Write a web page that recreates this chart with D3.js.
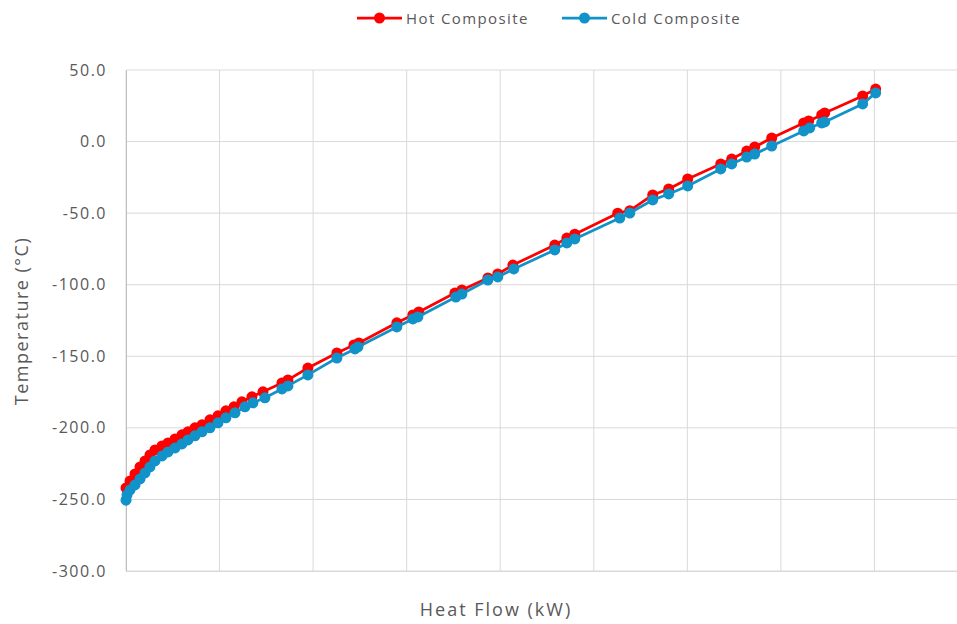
<!DOCTYPE html>
<html>
<head>
<meta charset="utf-8">
<script src="https://cdn.jsdelivr.net/npm/d3@7"></script>
<style>
  html, body { margin: 0; padding: 0; background: #ffffff; }
  svg { display: block; }
  text { font-family: "Open Sans", "Noto Sans", sans-serif; fill: #595959; }
</style>
</head>
<body>
<svg id="chart" width="957" height="624"></svg>
<script>
// Composite curves: cumulative heat flow (kW) vs temperature (°C)
const hotHeat = [0, 43, 96, 150, 203, 256, 310, 385, 449, 524, 598, 662, 737, 812, 897, 983, 1068, 1154, 1239, 1346, 1464, 1667, 1731, 1944, 2254, 2436, 2489, 2895, 3066, 3130, 3515, 3590, 3868, 3974, 4135, 4583, 4712, 4797, 5256, 5385, 5630, 5801, 6004, 6357, 6474, 6635, 6720, 6902, 7244, 7297, 7436, 7468, 7874, 8013];
const hotTemp = [-242.0, -237.1, -232.2, -227.3, -223.1, -218.9, -215.4, -212.6, -210.5, -207.7, -204.9, -202.8, -200.0, -197.9, -194.4, -191.6, -188.1, -185.3, -181.8, -178.3, -174.8, -168.6, -166.5, -158.2, -147.7, -142.1, -140.7, -126.6, -121.1, -119.0, -105.8, -103.7, -95.3, -92.5, -86.3, -72.3, -67.4, -64.7, -50.0, -48.3, -37.3, -33.1, -26.1, -15.6, -12.2, -6.6, -3.8, 2.5, 13.0, 14.4, 18.6, 20.0, 31.9, 36.7];

const coldHeat = [0, 11, 43, 96, 150, 203, 256, 310, 385, 449, 524, 598, 662, 737, 812, 897, 983, 1068, 1165, 1271, 1357, 1485, 1667, 1731, 1944, 2254, 2447, 2479, 2895, 3066, 3120, 3526, 3590, 3868, 3974, 4145, 4583, 4712, 4797, 5278, 5385, 5630, 5801, 6004, 6357, 6474, 6635, 6720, 6902, 7244, 7308, 7436, 7468, 7874, 8013];
const coldTemp = [-250.5, -246.9, -243.4, -239.9, -235.7, -231.5, -227.3, -223.1, -219.6, -216.8, -214.0, -211.2, -208.4, -205.6, -202.8, -200.0, -196.5, -193.0, -189.5, -185.3, -182.5, -179.0, -172.8, -170.7, -163.0, -151.2, -144.9, -143.5, -129.5, -123.9, -122.5, -108.6, -106.5, -96.7, -94.6, -89.0, -75.7, -70.8, -68.0, -53.4, -49.9, -40.8, -36.6, -31.0, -19.1, -15.6, -10.8, -8.7, -3.1, 7.4, 9.5, 13.0, 13.7, 26.3, 34.0];

const yTicks = [50, 0, -50, -100, -150, -200, -250, -300];
const xGrid = [0, 1000, 2000, 3000, 4000, 5000, 6000, 7000, 8000, 9000];

const seriesNames = ["Hot Composite", "Cold Composite"];
const seriesColors = ["#ff0000", "#1192c8"];

const svg = d3.select("#chart");
const margin = { left: 126, top: 70, right: 968, bottom: 571 };

const x = d3.scaleLinear().domain([0, 9000]).range([margin.left, margin.right]);
const y = d3.scaleLinear().domain([-300, 50]).range([margin.bottom, margin.top]);

// gridlines
const grid = svg.append("g");
grid.selectAll("line.h").data(yTicks).enter().append("line")
  .attr("x1", margin.left).attr("x2", 957)
  .attr("y1", d => y(d)).attr("y2", d => y(d))
  .attr("stroke", "#d9d9d9").attr("stroke-width", 1);
grid.selectAll("line.v").data(xGrid).enter().append("line")
  .attr("x1", d => x(d)).attr("x2", d => x(d))
  .attr("y1", margin.top).attr("y2", margin.bottom)
  .attr("stroke", "#d9d9d9").attr("stroke-width", 1);

// y axis labels, one decimal with a plain hyphen for negatives
const fmt = d3.formatLocale({ decimal: ".", thousands: ",", grouping: [3], currency: ["", ""], minus: "-" }).format(".1f");
const yAxis = d3.axisLeft(y).tickValues(yTicks).tickSize(0).tickPadding(19).tickFormat(fmt);
const yg = svg.append("g").attr("transform", `translate(${margin.left},0)`).call(yAxis);
yg.select(".domain").attr("stroke", "#bfbfbf");
yg.selectAll("text").style("font-size", "16px").style("letter-spacing", "1.5px")
  .attr("fill", "#595959").style("font-family", "'Open Sans', sans-serif");

// bottom axis line
const xAxis = d3.axisBottom(x).tickValues([]).tickSize(0);
const xg = svg.append("g").attr("transform", `translate(0,${margin.bottom})`).call(xAxis);
xg.select(".domain").attr("stroke", "#d9d9d9").attr("d", `M${margin.left},0.5H957`);

// axis titles
svg.append("text").attr("x", 496).attr("y", 616).attr("text-anchor", "middle")
  .style("font-size", "18px").style("letter-spacing", "2px").text("Heat Flow (kW)");
svg.append("text").attr("transform", "translate(28,321) rotate(-90)")
  .attr("text-anchor", "middle").style("font-size", "18px").style("letter-spacing", "1.5px")
  .text("Temperature (°C)");

// series
const series = [
  { heat: hotHeat, temp: hotTemp },
  { heat: coldHeat, temp: coldTemp }
];
const line = d3.line().x(d => x(d[0])).y(d => y(d[1]));

series.forEach((s, i) => {
  const pts = s.heat.map((h, k) => [h, s.temp[k]]);
  const g = svg.append("g");
  g.append("path").datum(pts).attr("d", line)
    .attr("fill", "none").attr("stroke", seriesColors[i]).attr("stroke-width", 2.75)
    .attr("stroke-linejoin", "round");
  g.selectAll("circle").data(pts).enter().append("circle")
    .attr("cx", d => x(d[0])).attr("cy", d => y(d[1])).attr("r", 5.5)
    .attr("fill", seriesColors[i]);
});

// legend
const legendX = [357, 562];
seriesNames.forEach((name, i) => {
  const g = svg.append("g").attr("transform", `translate(${legendX[i]},18)`);
  g.append("line").attr("x1", 0).attr("x2", 45).attr("y1", 0).attr("y2", 0)
    .attr("stroke", seriesColors[i]).attr("stroke-width", 2.75);
  g.append("circle").attr("cx", 22.5).attr("cy", 0).attr("r", 5.5).attr("fill", seriesColors[i]);
  g.append("text").attr("x", 49).attr("y", 5.5).style("font-size", "15px")
    .style("letter-spacing", "1.4px").text(name);
});
</script>
</body>
</html>
